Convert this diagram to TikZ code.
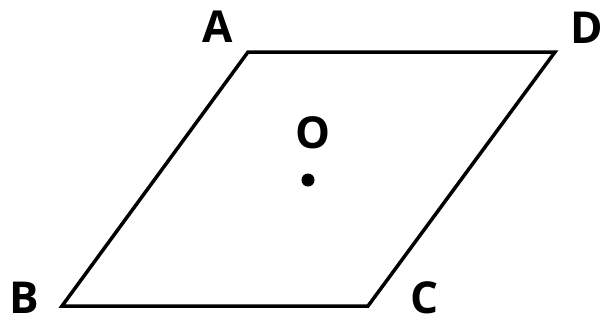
\documentclass[tikz,border=0pt]{standalone}
\usepackage{fontspec}
\setmainfont{Open Sans}
\begin{document}
\begin{tikzpicture}[x=1pt,y=-1pt,
  edge/.style={line width=3.5pt, line join=miter},
  lbl/.style={font=\fontsize{44}{44}\selectfont\bfseries, inner sep=0pt, anchor=center}]
\useasboundingbox (0,0) rectangle (603,322);
\coordinate (A) at (248,52);
\coordinate (D) at (555,52);
\coordinate (C) at (368,306);
\coordinate (B) at (62,306);
\draw[edge] (A) -- (D) -- (C) -- (B) -- cycle;
\node[lbl] (la) at (218,27) {A};
\node[lbl] (ld) at (587,28) {D};
\node[lbl] (lb) at (24,298) {B};
\node[lbl] (lc) at (425,298) {C};
\node[lbl] (lo) at (313,133) {O};
\fill (308,180) circle (6.5pt);
\end{tikzpicture}
\end{document}
